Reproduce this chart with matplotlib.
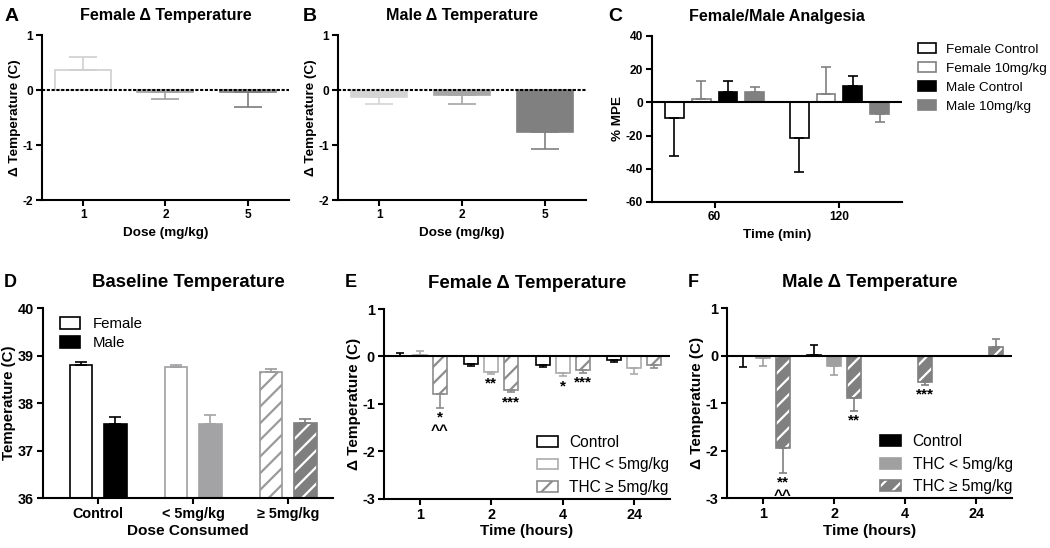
import numpy as np
import matplotlib
matplotlib.use('Agg')
import matplotlib.pyplot as plt
from matplotlib.patches import Patch

plt.rcParams['font.family'] = ['Liberation Sans', 'DejaVu Sans']
plt.rcParams['font.weight'] = 'bold'
plt.rcParams['axes.titleweight'] = 'bold'
plt.rcParams['axes.labelweight'] = 'bold'
plt.rcParams['axes.unicode_minus'] = False
plt.rcParams['hatch.linewidth'] = 1.6

# --- DATA ---
# A / B: delta temperature by dose
doses_ab = ['1', '2', '5']
female_dt = [0.37, -0.03, -0.03]
female_dt_sem = [0.23, 0.14, 0.27]
male_dt = [-0.13, -0.09, -0.77]
male_dt_sem = [0.13, 0.17, 0.31]

# C: analgesia (% MPE)
times_c = ['60', '120']
c_series = ['Female Control', 'Female 10mg/kg', 'Male Control', 'Male 10mg/kg']
f_ctrl_mpe = [-9.4, -21.4]
f_ctrl_mpe_sem = [22.6, 20.4]
f_10_mpe = [2.0, 5.0]
f_10_mpe_sem = [11.0, 16.0]
m_ctrl_mpe = [6.0, 9.6]
m_ctrl_mpe_sem = [6.6, 6.0]
m_10_mpe = [6.0, -6.8]
m_10_mpe_sem = [3.2, 5.0]

# D: baseline temperature
dose_groups_d = ['Control', '< 5mg/kg', '\u2265 5mg/kg']
female_base = [38.81, 38.75, 38.65]
female_base_sem = [0.05, 0.06, 0.06]
male_base = [37.55, 37.55, 37.59]
male_base_sem = [0.16, 0.20, 0.07]

# E / F: delta temperature over time
hours = ['1', '2', '4', '24']
ef_series = ['Control', 'THC < 5mg/kg', 'THC \u2265 5mg/kg']
e_ctrl = [0.02, -0.15, -0.18, -0.08]
e_ctrl_sem = [0.05, 0.05, 0.04, 0.03]
e_low = [0.03, -0.32, -0.34, -0.25]
e_low_sem = [0.09, 0.04, 0.08, 0.11]
e_high = [-0.79, -0.70, -0.28, -0.17]
e_high_sem = [0.29, 0.06, 0.06, 0.07]
f_ctrl = [-0.02, 0.01, np.nan, np.nan]
f_ctrl_sem = [0.23, 0.21, np.nan, np.nan]
f_low = [-0.06, -0.23, np.nan, np.nan]
f_low_sem = [0.17, 0.19, np.nan, np.nan]
f_high = [-1.94, -0.90, -0.56, 0.18]
f_high_sem = [0.53, 0.27, 0.05, 0.17]

# significance marks: (time index, series index, text)
e_marks = [(0, 2, '*\n^^'), (1, 1, '**'), (1, 2, '***'), (2, 1, '*'), (2, 2, '***')]
f_marks = [(0, 2, '**\n^^'), (1, 2, '**'), (2, 2, '***')]

LW = 1.5
BLW = 1.2


def style(ax):
    for s in ['top', 'right']:
        ax.spines[s].set_visible(False)
    for s in ['left', 'bottom']:
        ax.spines[s].set_linewidth(LW)
    ax.tick_params(width=LW, length=4, direction='out', pad=2.5)


def bars(ax, x, means, sems, face, edge, width, cap, hatch=None, white_hatch=False):
    x = np.asarray(x, float)
    m = np.asarray(means, float)
    s = np.asarray(sems, float)
    ok = ~np.isnan(m)
    x, m, s = x[ok], m[ok], s[ok]
    if white_hatch:
        ax.bar(x, m, width, color=face, edgecolor='white', hatch=hatch, linewidth=0, zorder=2)
        ax.bar(x, m, width, facecolor='none', edgecolor=edge, linewidth=BLW, zorder=2.1)
    else:
        ax.bar(x, m, width, facecolor=face, edgecolor=edge, hatch=hatch, linewidth=BLW, zorder=2)
    lower = np.where(m < 0, s, 0)
    upper = np.where(m >= 0, s, 0)
    ax.errorbar(x, m, yerr=[lower, upper], fmt='none', ecolor=edge, elinewidth=BLW,
                capsize=cap, capthick=BLW, zorder=2.2)


def marks(ax, xs, means_list, sems_list, mark_list, size):
    for g, k, txt in mark_list:
        y = means_list[k][g] - sems_list[k][g]
        ax.annotate(txt, xy=(xs[k][g], y), xytext=(0, -2), textcoords='offset points',
                    ha='center', va='top', fontsize=size, linespacing=0.95)


fig = plt.figure(figsize=(10.5, 5.48), dpi=100)

# ---------- A ----------
axA = fig.add_axes([0.040, 0.635, 0.2352, 0.301])
xa = np.arange(len(doses_ab))
a_edges = ['#cfcfcf', '#a0a0a0', '#7c7c7c']
for i in range(len(doses_ab)):
    bars(axA, [xa[i]], [female_dt[i]], [female_dt_sem[i]], 'white', a_edges[i], 0.68, 10)
axA.axhline(0, color='black', lw=LW, ls=(0, (1.5, 0.8)), zorder=3)
axA.set_xlim(-0.5, 2.5)
axA.set_ylim(-2, 1)
axA.set_yticks([-2, -1, 0, 1])
axA.set_xticks(xa)
axA.set_xticklabels(doses_ab)
style(axA)
axA.tick_params(labelsize=8.6)
axA.set_xlabel('Dose (mg/kg)', fontsize=9.7)
axA.set_ylabel('\u0394 Temperature (C)', fontsize=9.7, labelpad=1)
axA.set_title('Female \u0394 Temperature', fontsize=11.6, pad=11)

# ---------- B ----------
axB = fig.add_axes([0.3219, 0.635, 0.2362, 0.301])
b_fill = ['#d4d4d4', '#a6a6a6', '#808080']
for i in range(len(doses_ab)):
    bars(axB, [xa[i]], [male_dt[i]], [male_dt_sem[i]], b_fill[i], b_fill[i], 0.68, 10)
axB.axhline(0, color='black', lw=LW, ls=(0, (1.5, 0.8)), zorder=3)
axB.set_xlim(-0.5, 2.5)
axB.set_ylim(-2, 1)
axB.set_yticks([-2, -1, 0, 1])
axB.set_xticks(xa)
axB.set_xticklabels(doses_ab)
style(axB)
axB.tick_params(labelsize=8.6)
axB.set_xlabel('Dose (mg/kg)', fontsize=9.7)
axB.set_ylabel('\u0394 Temperature (C)', fontsize=9.7, labelpad=1)
axB.set_title('Male \u0394 Temperature', fontsize=11.6, pad=11)

# ---------- C ----------
axC = fig.add_axes([0.621, 0.6314, 0.238, 0.303])
xc = np.arange(len(times_c))
c_means = [f_ctrl_mpe, f_10_mpe, m_ctrl_mpe, m_10_mpe]
c_sems = [f_ctrl_mpe_sem, f_10_mpe_sem, m_ctrl_mpe_sem, m_10_mpe_sem]
c_face = ['white', 'white', 'black', '#808080']
c_edge = ['black', '#808080', 'black', '#808080']
c_off = [-1.5, -0.5, 0.5, 1.5]
for k in range(4):
    bars(axC, xc + c_off[k] * 0.214, c_means[k], c_sems[k], c_face[k], c_edge[k], 0.15, 3.5)
axC.axhline(0, color='black', lw=LW, zorder=3)
axC.set_xlim(-0.5, 1.5)
axC.set_ylim(-60, 40)
axC.set_yticks([-60, -40, -20, 0, 20, 40])
axC.set_xticks(xc)
axC.set_xticklabels(times_c)
style(axC)
axC.tick_params(labelsize=8.6)
axC.set_xlabel('Time (min)', fontsize=9.7)
axC.set_ylabel('% MPE', fontsize=9.7, labelpad=1)
axC.set_title('Female/Male Analgesia', fontsize=11.6, pad=11)
c_handles = [Patch(facecolor=c_face[k], edgecolor=c_edge[k], linewidth=BLW) for k in range(4)]
axC.legend(c_handles, c_series, loc='upper left', bbox_to_anchor=(1.064, 0.955), frameon=False,
           prop={'weight': 'normal', 'size': 9.7}, borderpad=0, borderaxespad=0,
           handlelength=1.35, handleheight=0.75, handletextpad=0.75, labelspacing=0.46)

# ---------- D ----------
axD = fig.add_axes([0.041, 0.0912, 0.276, 0.3467])
xd = np.arange(len(dose_groups_d))
fem_edges = ['black', '#a0a0a3', '#9a9a9a']
male_fill = ['black', '#a3a3a6', '#7f7f7f']
for i in range(3):
    h = '//' if i == 2 else None
    bars(axD, [xd[i] - 0.18], [female_base[i]], [female_base_sem[i]], 'white', fem_edges[i], 0.24, 4.5, hatch=h)
    bars(axD, [xd[i] + 0.18], [male_base[i]], [male_base_sem[i]], male_fill[i], male_fill[i], 0.24, 4.5,
         hatch=h, white_hatch=(i == 2))
axD.set_xlim(-0.58, 2.47)
axD.set_ylim(36, 40)
axD.set_yticks([36, 37, 38, 39, 40])
axD.set_xticks(xd)
axD.set_xticklabels(dose_groups_d)
style(axD)
axD.tick_params(labelsize=10.4)
axD.set_xlabel('Dose Consumed', fontsize=11.1, labelpad=2)
axD.set_ylabel('Temperature (C)', fontsize=10.8, labelpad=1)
axD.set_title('Baseline Temperature', fontsize=13.4, pad=15)
d_handles = [Patch(facecolor='white', edgecolor='black', linewidth=BLW),
             Patch(facecolor='black', edgecolor='black', linewidth=BLW)]
axD.legend(d_handles, ['Female', 'Male'], loc='upper left', bbox_to_anchor=(0.059, 0.955), frameon=False,
           prop={'weight': 'normal', 'size': 10.8}, borderpad=0, borderaxespad=0,
           handlelength=1.35, handleheight=0.85, handletextpad=0.8, labelspacing=0.36)


def time_panel(ax, series, sems, faces, edges, hatched_white, mark_list, title, legend_anchor):
    xt = np.arange(len(hours))
    offs = [-0.28, 0.0, 0.28]
    xs = []
    for k in range(3):
        h = '//' if k == 2 else None
        bars(ax, xt + offs[k], series[k], sems[k], faces[k], edges[k], 0.19, 3.2,
             hatch=h, white_hatch=(k == 2 and hatched_white))
        xs.append(xt + offs[k])
    ax.axhline(0, color='black', lw=LW, zorder=3)
    marks(ax, xs, series, sems, mark_list, 11)
    ax.set_xlim(-0.5, 3.5)
    ax.set_ylim(-3, 1)
    ax.set_yticks([-3, -2, -1, 0, 1])
    ax.set_xticks(xt)
    ax.set_xticklabels(hours)
    style(ax)
    ax.tick_params(labelsize=10.4)
    ax.set_xlabel('Time (hours)', fontsize=11.1, labelpad=2)
    ax.set_ylabel('\u0394 Temperature (C)', fontsize=11, labelpad=1)
    ax.set_title(title, fontsize=13.4, pad=15)
    handles = []
    for k in range(3):
        if k == 2 and hatched_white:
            handles.append((Patch(facecolor=faces[k], edgecolor='white', hatch='//', linewidth=0),
                            Patch(facecolor='none', edgecolor=edges[k], linewidth=BLW)))
        else:
            handles.append(Patch(facecolor=faces[k], edgecolor=edges[k], linewidth=BLW,
                                 hatch='//' if k == 2 else None))
    ax.legend(handles, ef_series, loc='upper left', bbox_to_anchor=legend_anchor, frameon=False,
              prop={'weight': 'normal', 'size': 11.2}, borderpad=0, borderaxespad=0,
              handlelength=1.35, handleheight=0.7, handletextpad=0.75, labelspacing=0.47)


# ---------- E ----------
axE = fig.add_axes([0.3657, 0.090, 0.2724, 0.346])
time_panel(axE, [e_ctrl, e_low, e_high], [e_ctrl_sem, e_low_sem, e_high_sem],
           ['white', 'white', 'white'], ['black', '#ababab', '#8c8c8c'], False, e_marks,
           'Female \u0394 Temperature', (0.534, 0.335))

# ---------- F ----------
axF = fig.add_axes([0.6927, 0.0912, 0.2709, 0.3467])
time_panel(axF, [f_ctrl, f_low, f_high], [f_ctrl_sem, f_low_sem, f_high_sem],
           ['black', '#a0a0a0', '#808080'], ['black', '#a0a0a0', '#808080'], True, f_marks,
           'Male \u0394 Temperature', (0.537, 0.335))

# panel letters
for lbl, xx, yy, fs in [('A', 0.004, 0.970, 14), ('B', 0.288, 0.970, 14), ('C', 0.579, 0.970, 14),
                        ('D', 0.004, 0.485, 13), ('E', 0.328, 0.485, 13), ('F', 0.655, 0.485, 13)]:
    fig.text(xx, yy, lbl, fontsize=fs, fontweight='bold', va='center', ha='left')

fig.savefig('out.png', dpi=100)
